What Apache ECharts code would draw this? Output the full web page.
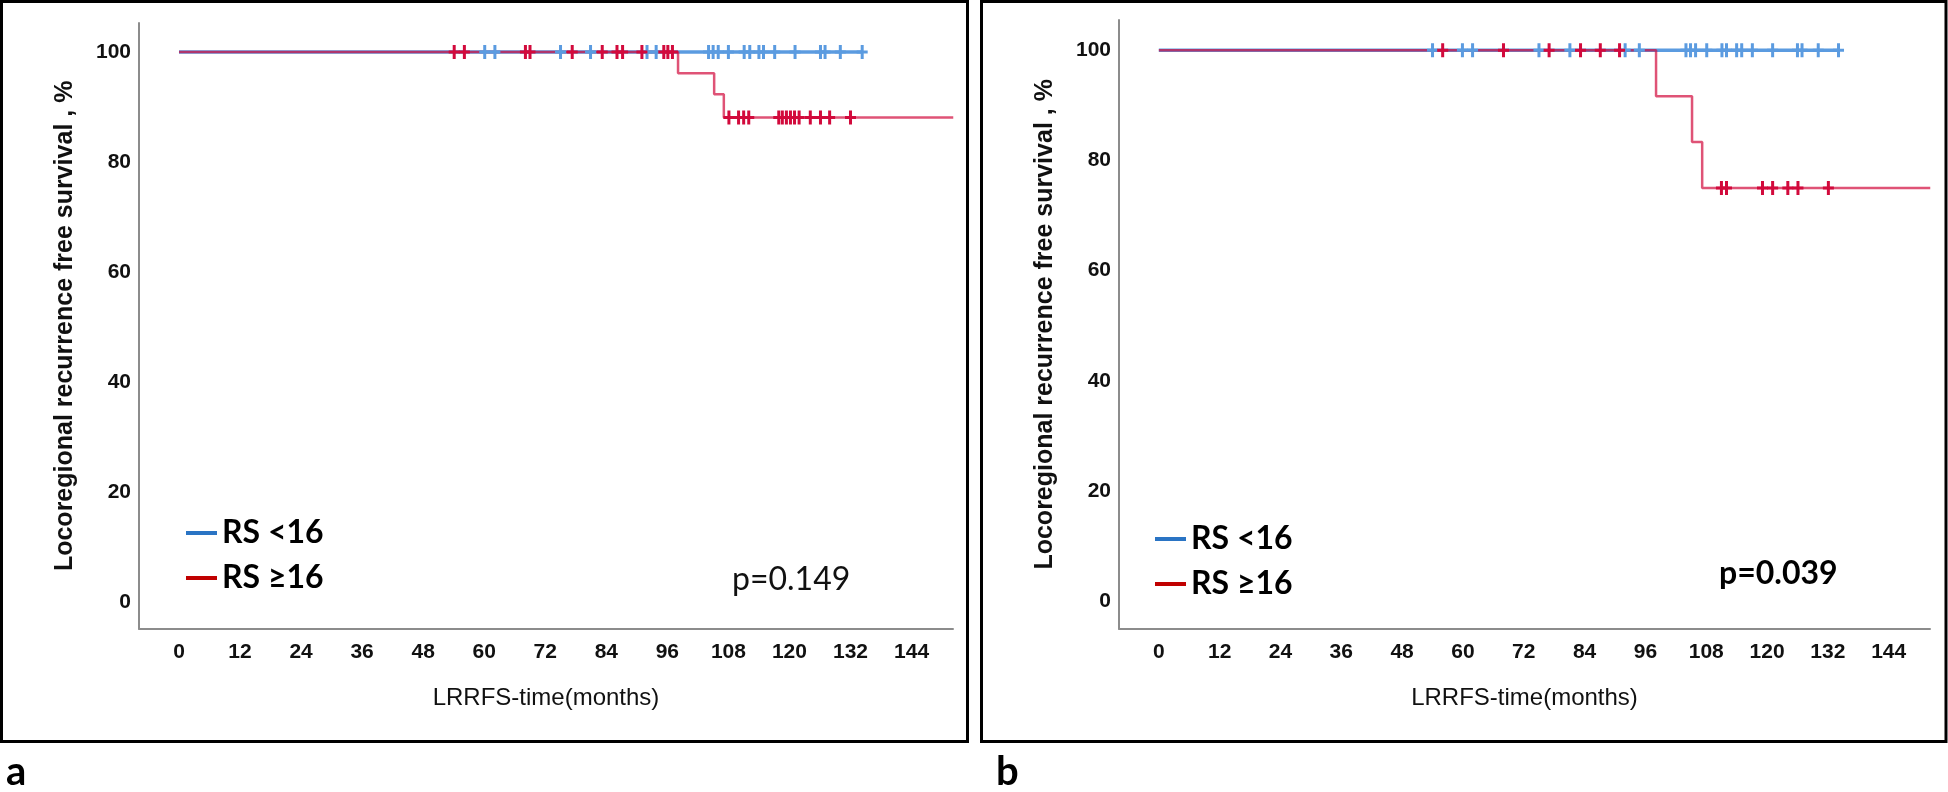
<!DOCTYPE html>
<html><head><meta charset="utf-8">
<script src="https://cdn.jsdelivr.net/npm/echarts@6/dist/echarts.min.js"></script>
<style>html,body{margin:0;padding:0;background:#fff}#c{width:1948px;height:792px}</style>
</head><body><div id="c"></div>
<script>
// ---------- data ----------
const xTicks = [0, 12, 24, 36, 48, 60, 72, 84, 96, 108, 120, 132, 144];
const yTicks = [0, 20, 40, 60, 80, 100];
const groupNames = ['RS <16', 'RS \u226516'];
const panelLetters = ['a', 'b'];
const pValues = ['p=0.149', 'p=0.039'];
const xTitle = 'LRRFS-time(months)';
const yTitle = 'Locoregional recurrence free survival , %';

// Panel a : Kaplan-Meier steps (time in months, survival %)
const aLowTimes = [0, 134.3];
const aLowSurv = [100, 100];
const aHighTimes = [0, 98.1, 105.2, 107.1, 152.2];
const aHighSurv = [100, 96.15, 92.3, 88.1, 88.1];
const aLowCensor = [60.1, 62.1, 75.0, 80.9, 92.0, 93.8, 104.1, 105.0, 106.0, 108.0, 111.1, 112.2, 114.0, 114.9, 117.1, 121.1, 126.1, 127.0, 130.0, 134.3];
const aHighCensor = [54.1, 56.1, 68.1, 69.0, 77.3, 83.2, 86.1, 87.2, 91.0, 95.3, 96.1, 97.0, 108.1, 110.0, 111.0, 112.0, 117.9, 118.6, 119.4, 120.2, 121.0, 121.9, 124.1, 126.1, 127.9, 132.0];

// Panel b
const bLowTimes = [0, 134.1];
const bLowSurv = [100, 100];
const bHighTimes = [0, 98.1, 105.2, 107.2, 152.2];
const bHighSurv = [100, 91.67, 83.33, 75.0, 75.0];
const bLowCensor = [54.0, 59.9, 61.9, 75.0, 81.1, 92.0, 94.8, 104.0, 104.9, 105.9, 108.1, 111.1, 112.0, 114.0, 115.0, 117.1, 121.1, 126.0, 126.9, 130.1, 134.1];
const bHighCensor = [56.0, 68.0, 77.0, 83.2, 87.1, 90.9, 111.0, 112.0, 119.1, 121.1, 124.1, 126.1, 132.1];

// ---------- helpers ----------
function pairs(t, s) { return t.map((v, i) => [v, s[i]]); }
function levelAt(t, times, surv) {
  let lv = surv[0];
  for (let i = 0; i < times.length; i++) { if (times[i] <= t) lv = surv[i]; }
  return lv;
}
function censorPts(cs, times, surv) { return cs.map(t => [t, levelAt(t, times, surv)]); }

const BLUE = '#5b9be0', RED = '#d20a3c';
const PLUS = 'path://M4,0h3v5.5h4v3h-4v5.5h-3v-5.5h-4v-3h4z';
const tickFont = { fontFamily: 'Liberation Sans', fontWeight: 'bold', fontSize: 21, color: '#111' };

const panels = [
  { low: [aLowTimes, aLowSurv, aLowCensor], high: [aHighTimes, aHighSurv, aHighCensor],
    grid: { left: 139, top: 23, width: 814, height: 605.7 }, ymin: -4.85, ymax: 105.27 },
  { low: [bLowTimes, bLowSurv, bLowCensor], high: [bHighTimes, bHighSurv, bHighCensor],
    grid: { left: 1119, top: 20, width: 811, height: 608.7 }, ymin: -5.03, ymax: 105.5 }
];

const grids = [], xAxes = [], yAxes = [], series = [];
panels.forEach((p, i) => {
  grids.push(p.grid);
  xAxes.push({
    type: 'value', gridIndex: i, min: -7.86, max: 152.15,
    axisLine: { show: true, onZero: false, lineStyle: { color: '#8c8c8c', width: 2 } },
    axisTick: { show: false }, splitLine: { show: false },
    axisLabel: Object.assign({ customValues: xTicks, margin: 13 }, tickFont),
    name: xTitle, nameLocation: 'middle', nameGap: 58,
    nameTextStyle: { fontFamily: 'Liberation Sans', fontSize: 24, color: '#111' }
  });
  yAxes.push({
    type: 'value', gridIndex: i, min: p.ymin, max: p.ymax,
    axisLine: { show: true, onZero: false, lineStyle: { color: '#8c8c8c', width: 2 } },
    axisTick: { show: false }, splitLine: { show: false },
    axisLabel: Object.assign({ customValues: yTicks, margin: 8 }, tickFont),
    name: yTitle, nameLocation: 'middle', nameRotate: 90, nameGap: 61,
    nameTextStyle: { fontFamily: 'Liberation Sans', fontWeight: 'bold', fontSize: 25, color: '#111' }
  });
  series.push({
    name: groupNames[0], type: 'line', xAxisIndex: i, yAxisIndex: i, step: 'end',
    data: pairs(p.low[0], p.low[1]), showSymbol: false, silent: true,
    lineStyle: { color: BLUE, width: 3.5 }, itemStyle: { color: BLUE }, z: 2
  });
  series.push({
    name: groupNames[1], type: 'line', xAxisIndex: i, yAxisIndex: i, step: 'end',
    data: pairs(p.high[0], p.high[1]), showSymbol: false, silent: true,
    lineStyle: { color: RED, width: 2.5, opacity: 0.7 }, itemStyle: { color: RED }, z: 3
  });
  series.push({
    name: groupNames[0], type: 'scatter', xAxisIndex: i, yAxisIndex: i,
    data: censorPts(p.low[2], p.low[0], p.low[1]), symbol: PLUS, symbolSize: [11, 14],
    itemStyle: { color: BLUE, opacity: 1 }, silent: true, z: 4
  });
  series.push({
    name: groupNames[1], type: 'scatter', xAxisIndex: i, yAxisIndex: i,
    data: censorPts(p.high[2], p.high[0], p.high[1]), symbol: PLUS, symbolSize: [11, 14],
    itemStyle: { color: RED, opacity: 1 }, silent: true, z: 5
  });
});

const legendText = { fontFamily: 'Lato', fontWeight: 'bold', fontSize: 32, lineHeight: 32, color: '#000' };
function legendData() {
  return [
    { name: groupNames[0], itemStyle: { color: '#2a74c4' } },
    { name: groupNames[1], itemStyle: { color: '#c00000' } }
  ];
}
const legends = [
  { left: 186, top: 517, padding: 0, orient: 'vertical', itemWidth: 31, itemHeight: 4, itemGap: 13,
    icon: 'rect', data: legendData(), textStyle: legendText, selectedMode: false },
  { left: 1155, top: 523, padding: 0, orient: 'vertical', itemWidth: 31, itemHeight: 4, itemGap: 13,
    icon: 'rect', data: legendData(), textStyle: legendText, selectedMode: false }
];

const graphic = [
  { type: 'rect', shape: { x: 1.5, y: 1.5, width: 966, height: 740 }, style: { fill: 'none', stroke: '#000', lineWidth: 3 }, silent: true },
  { type: 'rect', shape: { x: 981.5, y: 1.5, width: 964.5, height: 740 }, style: { fill: 'none', stroke: '#000', lineWidth: 3 }, silent: true },
  { type: 'text', left: 732, top: 564, style: { text: pValues[0], font: 'normal 32px Lato', fill: '#111' } },
  { type: 'text', left: 1719, top: 558, style: { text: pValues[1], font: 'bold 32px Lato', fill: '#000' } },
  { type: 'text', left: 6, top: 752, style: { text: panelLetters[0], font: 'bold 40px Lato', fill: '#000' } },
  { type: 'text', left: 996, top: 752, style: { text: panelLetters[1], font: 'bold 40px Lato', fill: '#000' } }
];

const chart = echarts.init(document.getElementById('c'), null, { renderer: 'canvas' });
chart.setOption({
  backgroundColor: '#fff',
  animation: false,
  grid: grids, xAxis: xAxes, yAxis: yAxes, series: series,
  legend: legends, graphic: graphic
});
</script>
</body></html>
